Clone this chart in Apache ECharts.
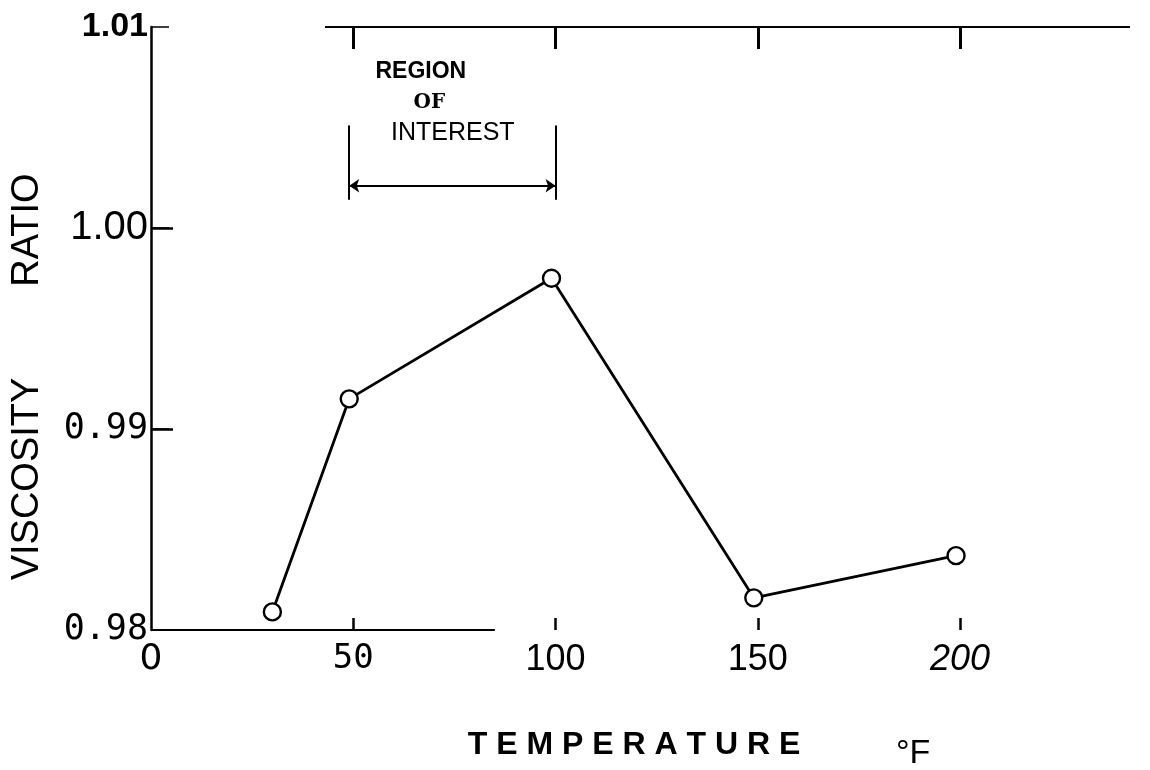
<!DOCTYPE html>
<html>
<head>
<meta charset="utf-8">
<script src="https://cdn.jsdelivr.net/npm/echarts@6/dist/echarts.min.js"></script>
<style>
html,body{margin:0;padding:0;background:#fff;}
#chart{width:1150px;height:770px;}
</style>
</head>
<body>
<div id="chart"></div>
<script>
// ---- data ----
const temperatures = [30, 49, 99, 149, 199];
const viscosityRatio = [0.9809, 0.9915, 0.9975, 0.9816, 0.9837];
const xTickLabels = [0, 50, 100, 150, 200];
const yTickLabels = [0.98, 0.99, 1.00, 1.01];
const regionBounds = [49, 100];

const chart = echarts.init(document.getElementById('chart'), null, {renderer: 'canvas'});
const points = temperatures.map((t, i) => [t, viscosityRatio[i]]);
const black = '#000';

const option = {
  backgroundColor: '#fff',
  animation: false,
  grid: {left: 151, right: 20, top: 27, bottom: 140, containLabel: false},
  xAxis: [{
    type: 'value', min: 0, max: 242, position: 'bottom',
    axisLine: {show: false},
    splitLine: {show: false},
    axisTick: {show: true, inside: true, length: 12, lineStyle: {color: black, width: 2.5},
      customValues: xTickLabels.filter(v => v > 0)},
    axisLabel: {
      customValues: xTickLabels, margin: 12,
      formatter: function (v) {
        if (v === 0) return '{d|0}';
        if (v === 50) return '{m|50}';
        if (v === 200) return '{i|200}';
        return '{n|' + v + '}';
      },
      rich: {
        d: {fontFamily: 'DejaVu Sans', fontSize: 36, color: black},
        m: {fontFamily: 'DejaVu Sans Mono', fontSize: 34, color: black},
        n: {fontFamily: 'Liberation Sans', fontSize: 36, color: black},
        i: {fontFamily: 'Liberation Sans', fontStyle: 'italic', fontSize: 36, color: black}
      }
    }
  }, {
    type: 'value', min: 0, max: 242, position: 'top',
    axisLine: {show: false},
    splitLine: {show: false},
    axisTick: {show: true, inside: true, length: 22, lineStyle: {color: black, width: 3},
      customValues: xTickLabels.filter(v => v > 0)},
    axisLabel: {show: false}
  }],
  yAxis: [{
    type: 'value', min: 0.98, max: 1.01, position: 'left',
    axisLine: {show: true, lineStyle: {color: black, width: 2.5}},
    splitLine: {show: false},
    axisTick: {show: true, inside: true, length: 18, lineStyle: {color: black, width: 1.5},
      customValues: yTickLabels.slice(1)},
    axisLabel: {
      customValues: yTickLabels, margin: 3,
      formatter: function (v) {
        const s = v.toFixed(2);
        if (s === '1.01') return '{b|1.01}';
        if (s === '1.00') return '{r|1.00}';
        return '{d|' + s + '}';
      },
      rich: {
        b: {fontFamily: 'Liberation Sans', fontWeight: 'bold', fontSize: 34, color: black},
        r: {fontFamily: 'Liberation Sans', fontSize: 40, color: black},
        d: {fontFamily: 'DejaVu Sans Mono', fontSize: 35, color: black}
      }
    }
  }, {
    type: 'value', min: 0.98, max: 1.01, position: 'right',
    axisLine: {show: false},
    splitLine: {show: false},
    axisTick: {show: true, inside: false, length: 22, lineStyle: {color: black, width: 2.5},
      customValues: [0.99, 1.00]},
    axisLabel: {show: false}
  }],
  series: [{
    type: 'line',
    data: points,
    xAxisIndex: 0, yAxisIndex: 0,
    symbol: 'circle',
    symbolSize: 17,
    itemStyle: {color: '#fff', borderColor: black, borderWidth: 2.4},
    lineStyle: {color: black, width: 2.8},
    z: 5,
    markLine: {
      silent: true,
      symbol: 'none',
      label: {show: false},
      lineStyle: {color: black, width: 2, type: 'solid'},
      emphasis: {disabled: true},
      data: [
        [{coord: [0, 0.98]}, {coord: [85, 0.98]}],
        [{coord: [43, 1.01]}, {coord: [242, 1.01]}],
        [{coord: [regionBounds[0], 1.0051]}, {coord: [regionBounds[0], 1.0014]}],
        [{coord: [regionBounds[1], 1.0051]}, {coord: [regionBounds[1], 1.0014]}],
        [{coord: [regionBounds[0], 1.0021], symbol: 'arrow', symbolSize: 10},
         {coord: [regionBounds[1], 1.0021], symbol: 'arrow', symbolSize: 10}]
      ]
    },
    markPoint: {
      silent: true,
      symbol: 'circle',
      symbolSize: 1,
      itemStyle: {color: 'rgba(0,0,0,0)'},
      data: [
        {name: 'REGION', coord: [66.7, 1.00776],
          label: {show: true, position: 'inside', formatter: 'REGION', color: black,
            fontFamily: 'Liberation Sans', fontWeight: 'bold', fontSize: 23}},
        {name: 'OF', coord: [68.8, 1.00622],
          label: {show: true, position: 'inside', formatter: 'OF', color: black,
            fontFamily: 'DejaVu Serif', fontWeight: 'bold', fontSize: 20}},
        {name: 'INTEREST', coord: [74.6, 1.00473],
          label: {show: true, position: 'inside', formatter: 'INTEREST', color: black,
            fontFamily: 'Liberation Sans', fontSize: 25}}
      ]
    }
  }],
  graphic: [
    {type: 'text', x: 28, y: 479, rotation: Math.PI / 2,
      style: {text: 'VISCOSITY', font: '38px "Liberation Sans"', fill: black,
        textAlign: 'center', textVerticalAlign: 'middle'}},
    {type: 'text', x: 28, y: 230, rotation: Math.PI / 2,
      style: {text: 'RATIO', font: '38px "Liberation Sans"', fill: black,
        textAlign: 'center', textVerticalAlign: 'middle'}},
    {type: 'text', x: 634, y: 745,
      style: {text: 'T E M P E R A T U R E', font: 'bold 32px "Liberation Sans"', fill: black,
        textAlign: 'center', textVerticalAlign: 'middle'}},
    {type: 'text', x: 896, y: 754,
      style: {text: '°F', font: '34px "Liberation Sans"', fill: black,
        textAlign: 'left', textVerticalAlign: 'middle'}}
  ]
};
chart.setOption(option);
</script>
</body>
</html>
